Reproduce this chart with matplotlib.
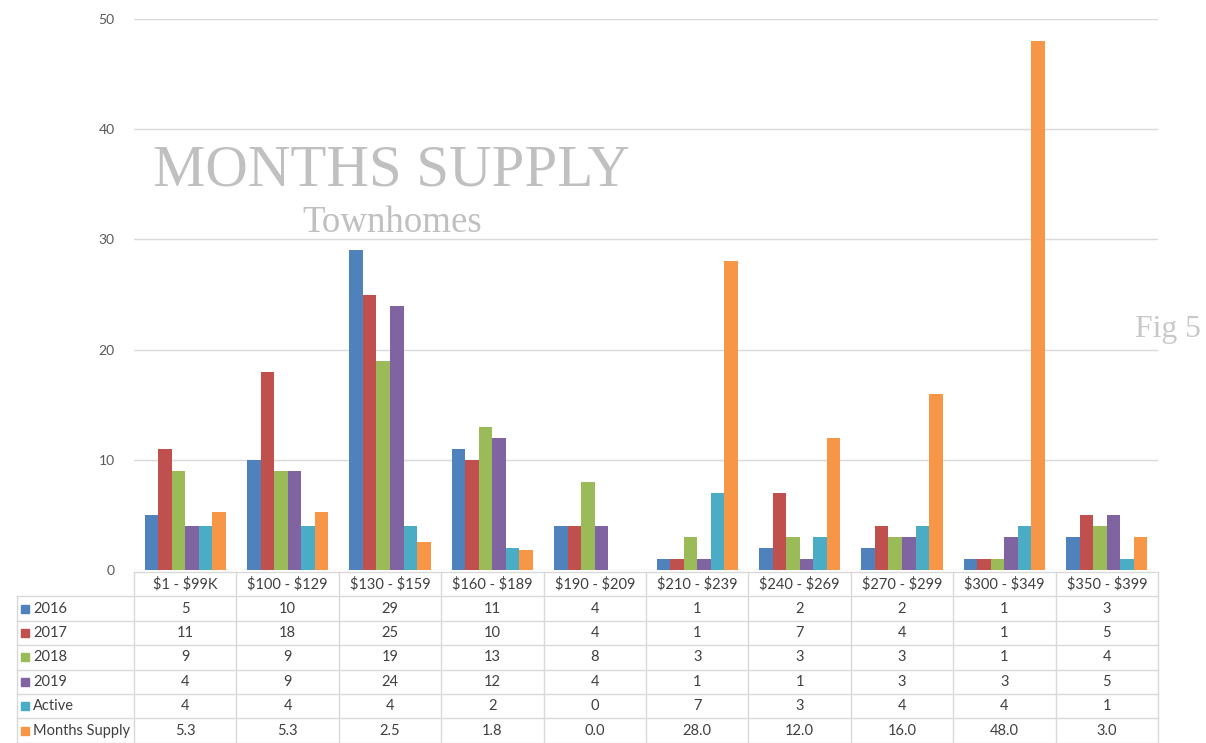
import matplotlib.pyplot as plt
import numpy as np

categories = ['$1 - $99K', '$100 - $129', '$130 - $159', '$160 - $189', '$190 - $209',
              '$210 - $239', '$240 - $269', '$270 - $299', '$300 - $349', '$350 - $399']
series_names = ['2016', '2017', '2018', '2019', 'Active', 'Months Supply']
s2016 = [5, 10, 29, 11, 4, 1, 2, 2, 1, 3]
s2017 = [11, 18, 25, 10, 4, 1, 7, 4, 1, 5]
s2018 = [9, 9, 19, 13, 8, 3, 3, 3, 1, 4]
s2019 = [4, 9, 24, 12, 4, 1, 1, 3, 3, 5]
active = [4, 4, 4, 2, 0, 7, 3, 4, 4, 1]
months_supply = [5.3, 5.3, 2.5, 1.8, 0.0, 28.0, 12.0, 16.0, 48.0, 3.0]

colors = ['#4F81BD', '#C0504D', '#9BBB59', '#8064A2', '#4BACC6', '#F79646']
series = [s2016, s2017, s2018, s2019, active, months_supply]
fmts = ['{:d}', '{:d}', '{:d}', '{:d}', '{:d}', '{:.1f}']

W, H = 1206, 743
plt.rcParams['font.family'] = ['Lato', 'DejaVu Sans']
plt.rcParams['text.parse_math'] = False
fig = plt.figure(figsize=(W / 100, H / 100), dpi=100)

# plot area in pixels
left, right, top, bottom = 134, 1158, 19, 570
ax = fig.add_axes([left / W, 1 - bottom / H, (right - left) / W, (bottom - top) / H])
x = np.arange(len(categories))
bw = 0.132
for k, (vals, c) in enumerate(zip(series, colors)):
    ax.bar(x + (k - 2.5) * bw, vals, bw, color=c, zorder=3)

ax.set_xlim(-0.5, len(categories) - 0.5)
ax.set_ylim(0, 50)
ax.set_yticks(range(0, 51, 10))
ax.yaxis.grid(True, color='#d9d9d9', linewidth=1)
ax.set_xticks([])
for s in ax.spines.values():
    s.set_visible(False)
ax.tick_params(axis='y', length=0, pad=14, labelsize=10, labelcolor='#595959')
ax.set_facecolor('none')

# data table below, drawn in pixel coordinates
tab = fig.add_axes([0, 0, 1, 1], zorder=-1)
tab.set_xlim(0, W)
tab.set_ylim(H, 0)
tab.axis('off')
line_c = '#d9d9d9'
txt_c = '#404040'
col_w = (right - left) / len(categories)
row_top = 572
row_h = 24.4
first_left = 17
n_rows = len(series_names)
table_bottom = row_top + row_h * (n_rows + 1)

tab.plot([left, right], [row_top, row_top], color=line_c, lw=1)
for r in range(1, n_rows + 2):
    yy = row_top + r * row_h
    tab.plot([first_left, right], [yy, yy], color=line_c, lw=1)
tab.plot([first_left, first_left], [row_top + row_h, table_bottom], color=line_c, lw=1)
for i in range(len(categories) + 1):
    xx = left + i * col_w
    tab.plot([xx, xx], [row_top, table_bottom], color=line_c, lw=1)

for i, cat in enumerate(categories):
    tab.text(left + (i + 0.5) * col_w, row_top + row_h / 2, cat, ha='center', va='center',
             fontsize=10.5, color=txt_c)
for r, (name, vals, c, f) in enumerate(zip(series_names, series, colors, fmts)):
    yc = row_top + (r + 1.5) * row_h
    tab.add_patch(plt.Rectangle((21, yc - 4), 8, 8, color=c))
    tab.text(33, yc, name, ha='left', va='center', fontsize=10.5, color=txt_c)
    for i, v in enumerate(vals):
        tab.text(left + (i + 0.5) * col_w, yc, f.format(v), ha='center', va='center',
                 fontsize=10.5, color=txt_c)

# titles
fig.text(391 / W, 1 - 172 / H, 'MONTHS SUPPLY', ha='center', va='center',
         fontsize=42.4, color='#c0c0c0', family='Liberation Serif')
fig.text(392 / W, 1 - 223 / H, 'Townhomes', ha='center', va='center',
         fontsize=26.6, color='#c0c0c0', family='Liberation Serif')
fig.text(1168 / W, 1 - 329 / H, 'Fig 5', ha='center', va='center',
         fontsize=22.8, color='#c8c8c8', family='Liberation Serif')

fig.savefig('out.png', dpi=100)
